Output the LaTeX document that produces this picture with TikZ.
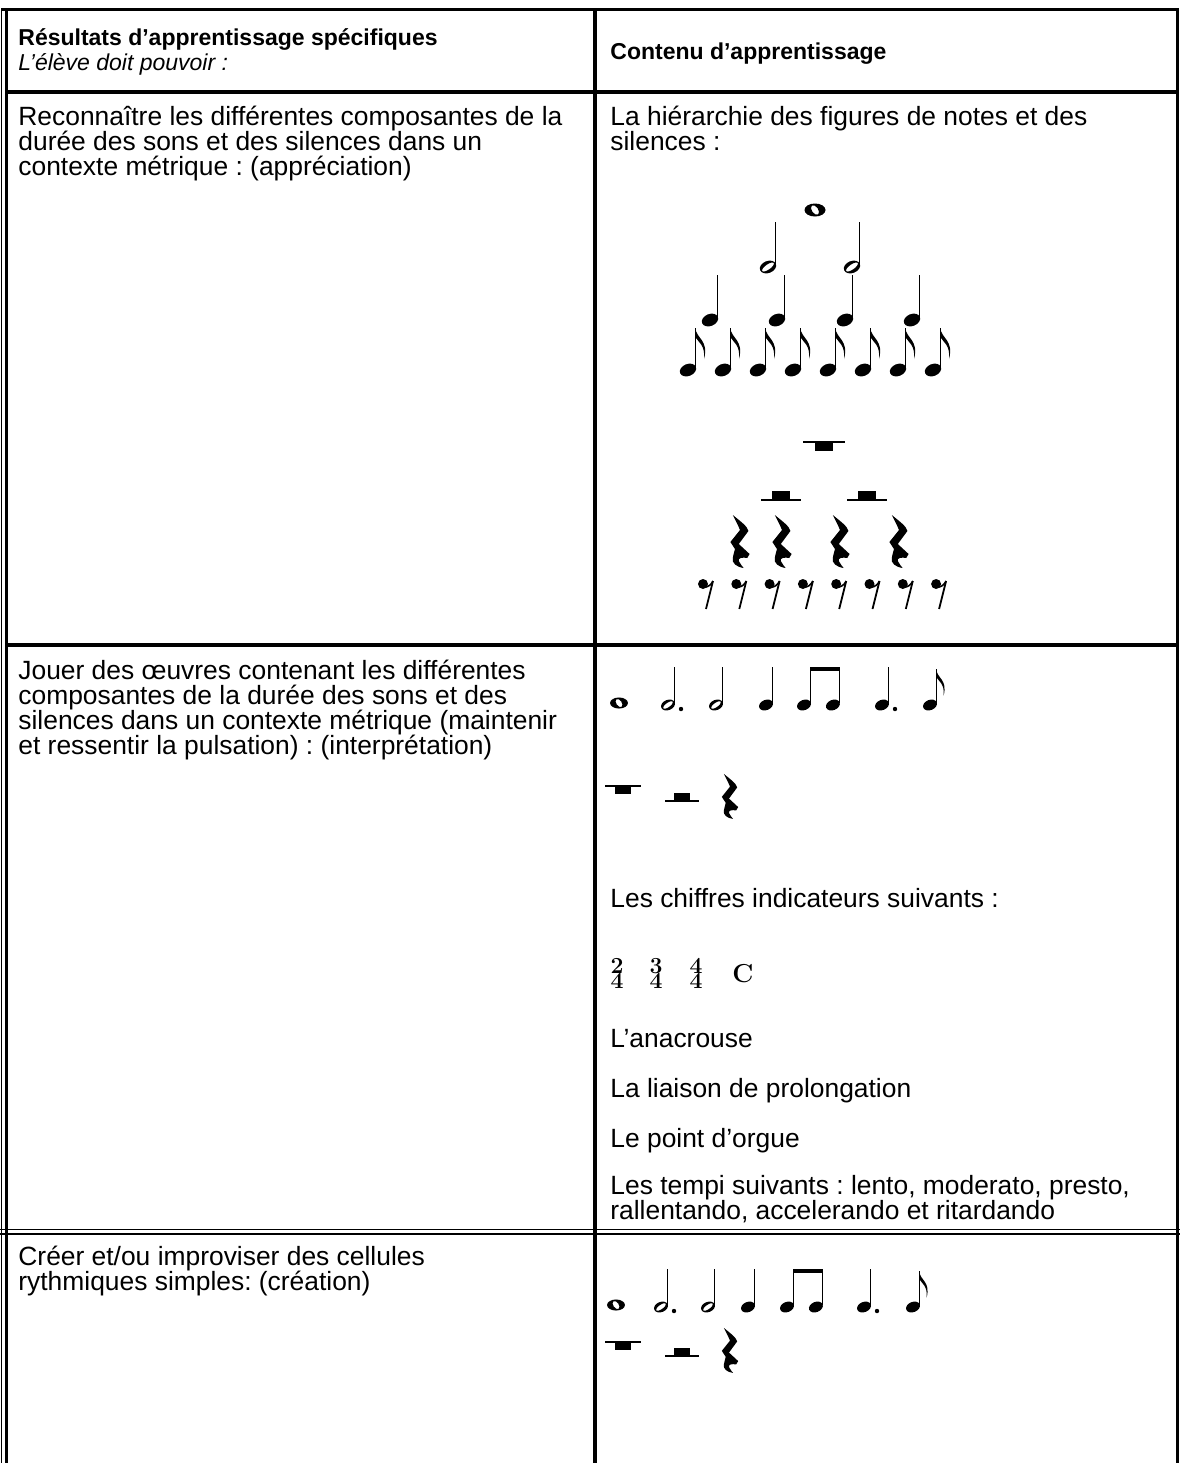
\documentclass[tikz,border=0pt]{standalone}
\usepackage{fontspec}
\newfontfamily\arial{Liberation Sans}
\usetikzlibrary{calc}

\tikzset{
  celltext/.style={font={\arial\fontsize{13.2}{12.5}\selectfont\lineskiplimit=-20pt}, align=left, anchor=base west, inner sep=0pt},
  headtext/.style={celltext, font={\arial\bfseries\fontsize{11.5}{12.5}\selectfont\lineskiplimit=-20pt}},
  timesig/.style={font={\bfseries\fontsize{11.5}{11.5}\selectfont}, anchor=base, inner sep=0pt},
  stem/.style={line width=0.55pt},
  rowsize/.style={scale=0.85},
  pics/wnote/.style={code={
    \fill[even odd rule] (0,0) ellipse [x radius=10.5, y radius=6.5]
      (0,0) ellipse [x radius=3.2, y radius=5.4, rotate=35];
  }},
  pics/hnote/.style={code={
    \fill[even odd rule] (0,0) ellipse [x radius=8.5, y radius=6, rotate=22]
      (0,0) ellipse [x radius=7, y radius=2.6, rotate=35];
    \draw[stem] (7.6,-2) -- (7.6,-45);
  }},
  pics/qnote/.style={code={
    \fill (0,0) ellipse [x radius=8.5, y radius=6, rotate=22];
    \draw[stem] (7.6,-2) -- (7.6,-45);
  }},
  pics/enote/.style={code={
    \fill (0,0) ellipse [x radius=8.5, y radius=6, rotate=22];
    \draw[stem] (7.6,-2) -- (7.6,-42);
    \fill (7.3,-42) .. controls (8.5,-31) and (21,-30) .. (16,-11)
      .. controls (17.5,-25) and (10,-28) .. (7.3,-33) -- cycle;
  }},
  pics/bnotes/.style={code={
    \foreach \k in {0,34} {
      \fill (\k,0) ellipse [x radius=8.5, y radius=6, rotate=22];
      \draw[stem] (\k+7.6,-2) -- (\k+7.6,-45);
    }
    \fill (7.0,-45) rectangle (42.2,-40);
  }},
  pics/wrest/.style={code={
    \draw[line width=0.75pt] (-21,0) -- (21,0);
    \fill (-9,0) rectangle (9,9);
  }},
  pics/hrest/.style={code={
    \draw[line width=0.75pt] (-20,0) -- (20,0);
    \fill (-9,-9) rectangle (9,0);
  }},
  pics/qrest/.style={code={
    \fill[xscale=1.2] (-6,-26) .. controls (1,-19) and (6,-15) .. (7,-10)
      -- (-1,3) -- (8,13) -- (6,17)
      .. controls (2,16) and (-2,17) .. (-1,20)
      .. controls (0,23) and (2,25) .. (3,27)
      .. controls (-3,26) and (-7,22) .. (-6,17)
      .. controls (-5.5,13) and (-4.5,10) .. (-4.2,8)
      -- (-8,1) -- (0,-11)
      .. controls (-2,-17) and (-4,-21) .. (-6,-26) -- cycle;
  }},
  pics/erest/.style={code={
    \fill (0,0) circle [radius=5];
    \draw[line width=0.8pt] (2,3) .. controls (5,3) and (8,1) .. (10,-3);
    \draw[line width=0.9pt] (10,-3) -- (3,25);
  }},
}

\begin{document}
\frenchspacing
\begin{tikzpicture}[x=0.5pt, y=-0.5pt]
        \def\colx{595}
        \def\rgt{1177.5}
        \def\ytop{9.5}

        \useasboundingbox (0,0) rectangle (1180,1463);

        % table frame
        \draw[line width=1.5pt] (1,\ytop) -- (\rgt,\ytop);
        \draw[line width=0.5pt] (1.5,8) -- (1.5,1463);
        \draw[line width=1.5pt] (6.5,8) -- (6.5,1463);
        \draw[line width=2pt] (\colx,8) -- (\colx,1463);
        \draw[line width=1.5pt] (\rgt,8) -- (\rgt,1463);
        \draw[line width=2pt] (5,92) -- (1179,92);
        \draw[line width=2pt] (5,645) -- (1179,645);
        \draw[line width=0.5pt] (0,1229.5) -- (1180,1229.5);
        \draw[line width=1.25pt] (0,1234) -- (1180,1234);

        % header (base = last line)
        \node[headtext] (headL) at (18,70) {Résultats d’apprentissage spécifiques\\{\mdseries\itshape L’élève doit pouvoir :}};
        \node[headtext] (headR) at (610,59) {Contenu d’apprentissage};

        % row 1
        \node[celltext] (rowAL) at (18,175) {Reconnaître les différentes composantes de la\\durée des sons et des silences dans un\\contexte métrique : (appréciation)};
        \node[celltext] (rowAR) at (610,150) {La hiérarchie des figures de notes et des\\silences :};

        \pic at (815,210) {wnote};
        \foreach \x in {768,852} \pic at (\x,267) {hnote};
        \foreach \x in {710,777,845,912} \pic at (\x,320) {qnote};
        \foreach \i in {0,...,7} \pic at ({688+35*\i},370) {enote};

        \pic at (824,442) {wrest};
        \foreach \x in {781,867} \pic at (\x,500) {hrest};
        \foreach \x in {740,782,840,899} \pic at (\x,541) {qrest};
        \foreach \i in {0,...,7} \pic at ({703+33.3*\i},584) {erest};

        % row 2
        \node[celltext] (rowBL) at (18,754) {Jouer des œuvres contenant les différentes\\composantes de la durée des sons et des\\silences dans un contexte métrique (maintenir\\et ressentir la pulsation) : (interprétation)};

        \pic[rowsize] at (619,703) {wnote};
        \pic[rowsize] at (668,705) {hnote};
        \fill (681,709) circle [radius=2.2];
        \pic[rowsize] at (716,705) {hnote};
        \pic[rowsize] at (766,705) {qnote};
        \pic[rowsize] at (804,705) {bnotes};
        \pic[rowsize] at (882,705) {qnote};
        \fill (895,709) circle [radius=2.2];
        \pic[rowsize] at (930,705) {enote};

        \pic[rowsize] at (623,786) {wrest};
        \pic[rowsize] at (682,801) {hrest};
        \pic[rowsize] at (730,796) {qrest};

        \node[celltext] (chiffres) at (610,907) {Les chiffres indicateurs suivants :};
        \node[timesig] (sigAnum) at (617,973) {2};
        \node[timesig] (sigAden) at (617,988) {4};
        \node[timesig] (sigBnum) at (656,973) {3};
        \node[timesig] (sigBden) at (656,988) {4};
        \node[timesig] (sigCnum) at (696,973) {4};
        \node[timesig] (sigCden) at (696,988) {4};
        \node[inner sep=0pt, font={\bfseries\fontsize{13}{13}\selectfont}] (sigD) at (743,974) {C};

        \node[celltext] (anacrouse) at (610,1047) {L’anacrouse};
        \node[celltext] (liaison) at (610,1097) {La liaison de prolongation};
        \node[celltext] (orgue) at (610,1147) {Le point d’orgue};
        \node[celltext] (tempi) at (610,1219) {Les tempi suivants : lento, moderato, presto,\\rallentando, accelerando et ritardando};

        % row 3
        \node[celltext] (rowCL) at (18,1290) {Créer et/ou improviser des cellules\\rythmiques simples: (création)};

        \pic[rowsize] at (616,1305) {wnote};
        \pic[rowsize] at (661,1307) {hnote};
        \fill (674,1311) circle [radius=2.2];
        \pic[rowsize] at (708,1307) {hnote};
        \pic[rowsize] at (748,1307) {qnote};
        \pic[rowsize] at (787,1307) {bnotes};
        \pic[rowsize] at (864,1307) {qnote};
        \fill (877,1311) circle [radius=2.2];
        \pic[rowsize] at (913,1307) {enote};

        \pic[rowsize] at (623,1342) {wrest};
        \pic[rowsize] at (682,1356) {hrest};
        \pic[rowsize] at (730,1350) {qrest};
    \end{tikzpicture}
\end{document}
